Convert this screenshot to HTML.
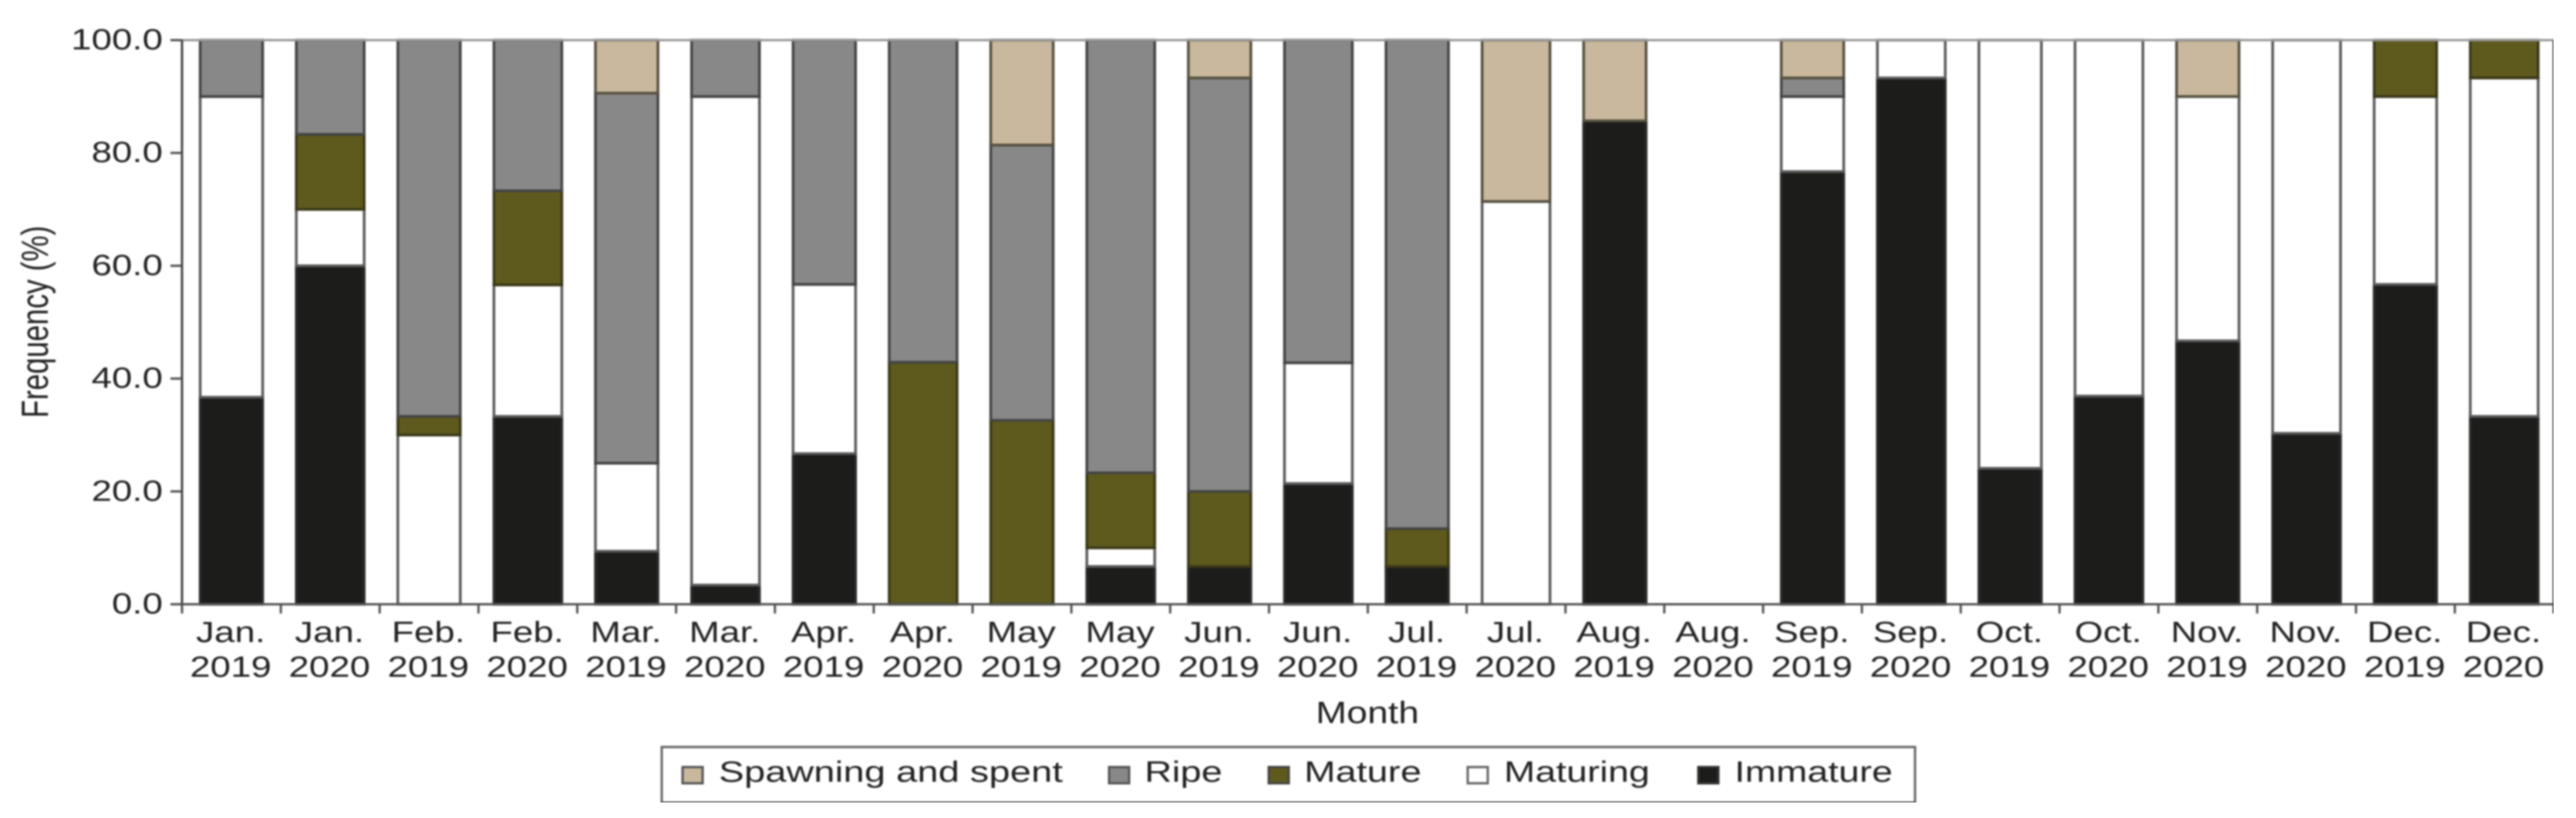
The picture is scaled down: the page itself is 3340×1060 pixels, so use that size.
<!DOCTYPE html>
<html lang="en">
<head>
<meta charset="utf-8">
<title>Monthly frequency of maturity stages</title>
<style>
  html, body { margin: 0; padding: 0; background: #fff; }
  #chart { display: block; width: 3340px; height: 1060px; background: #fff; }
  text { font-family: "Liberation Sans", Arial, sans-serif; fill: #222; font-size: 38px; }
</style>
</head>
<body>
<svg id="chart" xmlns="http://www.w3.org/2000/svg" width="3340" height="1060" viewBox="0 0 3340 1060">
  <defs>
    <filter id="soft" x="0" y="0" width="100%" height="100%" color-interpolation-filters="sRGB">
      <feGaussianBlur stdDeviation="1.1"></feGaussianBlur>
    </filter>
  </defs>
  <g id="root" filter="url(#soft)">
    <g id="bars"></g>
    <g id="axes"></g>
    <text transform="translate(62,417) scale(1.3,1) rotate(-90)" text-anchor="middle">Frequency (%)</text>
    <text x="1706" y="937" font-size="40" style="font-size:40px" textLength="134" lengthAdjust="spacingAndGlyphs">Month</text>
    <g>
      <rect x="858" y="968" width="1625" height="72" fill="#fff" stroke="#666" stroke-width="3"></rect>
      <rect x="885" y="994" width="26" height="21" fill="#c9b89d" stroke="#555" stroke-width="3"></rect>
      <text x="932" y="1013" textLength="446" lengthAdjust="spacingAndGlyphs">Spawning and spent</text>
      <rect x="1438" y="994" width="26" height="21" fill="#888888" stroke="#555" stroke-width="3"></rect>
      <text x="1484" y="1013" textLength="101" lengthAdjust="spacingAndGlyphs">Ripe</text>
      <rect x="1645" y="994" width="26" height="21" fill="#5e5a1e" stroke="#444" stroke-width="3"></rect>
      <text x="1691" y="1013" textLength="152" lengthAdjust="spacingAndGlyphs">Mature</text>
      <rect x="1903" y="994" width="26" height="21" fill="#fff" stroke="#666" stroke-width="3"></rect>
      <text x="1950" y="1013" textLength="189" lengthAdjust="spacingAndGlyphs">Maturing</text>
      <rect x="2202" y="994" width="26" height="21" fill="#1c1c1a" stroke="#333" stroke-width="3"></rect>
      <text x="2249" y="1013" textLength="205" lengthAdjust="spacingAndGlyphs">Immature</text>
    </g>
  </g>
</svg>
<script>
var months = ["Jan.","Jan.","Feb.","Feb.","Mar.","Mar.","Apr.","Apr.","May","May","Jun.","Jun.","Jul.","Jul.","Aug.","Aug.","Sep.","Sep.","Oct.","Oct.","Nov.","Nov.","Dec.","Dec."];
var years = ["2019","2020","2019","2020","2019","2020","2019","2020","2019","2020","2019","2020","2019","2020","2019","2020","2019","2020","2019","2020","2019","2020","2019","2020"];
var yTickValues = [0, 20, 40, 60, 80, 100];
var yTickLabels = ["0.0", "20.0", "40.0", "60.0", "80.0", "100.0"];

var immature = [36.7,60,0,33.3,9.4,3.4,26.7,0,0,6.7,6.7,21.4,6.7,0,85.7,0,76.7,93.3,24.1,36.9,46.7,30.3,56.7,33.3];
var maturing = [53.3,10,30,23.3,15.6,86.6,30,0,0,3.3,0,21.4,0,71.4,0,100,13.3,6.7,75.9,63.1,43.3,69.7,33.3,60];
var mature = [0,13.3,3.3,16.7,0,0,0,42.9,32.6,13.3,13.3,0,6.7,0,0,0,0,0,0,0,0,0,10,6.7];
var ripe = [10,16.7,66.7,26.7,65.6,10,43.3,57.1,48.8,76.7,73.3,57.2,86.6,0,0,0,3.3,0,0,0,0,0,0,0];
var spawning = [0,0,0,0,9.4,0,0,0,18.6,0,6.7,0,0,28.6,14.3,0,6.7,0,0,0,10,0,0,0];

var NS = "http://www.w3.org/2000/svg";
var plotLeft = 236, plotRight = 3311, plotTop = 52, plotBottom = 783;
var step = (plotRight - plotLeft) / months.length;

function yScale(v) { return plotBottom - (v / 100) * (plotBottom - plotTop); }
function xCenter(i) { return plotLeft + step * (i + 0.5); }
function barWidth(i) { return years[i] === "2020" ? 88 : 81; }

function make(tag, attrs, parent) {
  var el = document.createElementNS(NS, tag);
  for (var k in attrs) { el.setAttribute(k, attrs[k]); }
  parent.appendChild(el);
  return el;
}

var barsGroup = document.getElementById("bars");
var axesGroup = document.getElementById("axes");

var stack = [
  { key: "immature", values: immature, fill: "#1c1c1a", stroke: "#2a2a2a" },
  { key: "maturing", values: maturing, fill: "#ffffff", stroke: "#5a5a5a" },
  { key: "mature", values: mature, fill: "#5e5a1e", stroke: "#3a3818" },
  { key: "ripe", values: ripe, fill: "#888888", stroke: "#444444" },
  { key: "spawning", values: spawning, fill: "#c9b89d", stroke: "#55503f" }
];

months.forEach(function (m, i) {
  var cumulative = 0;
  stack.forEach(function (s) {
    var v = s.values[i];
    if (v <= 0) { return; }
    var y1 = yScale(cumulative + v);
    var y0 = yScale(cumulative);
    var w = barWidth(i);
    // A fully white bar shows no outline in the reference (Aug. 2020).
    var outline = (s.key === "maturing" && v >= 100) ? "none" : s.stroke;
    var seg = make("rect", {
      x: xCenter(i) - w / 2, y: y1, width: w, height: y0 - y1,
      fill: s.fill, stroke: outline, "stroke-width": 3.5
    }, barsGroup);
    
    
    cumulative += v;
  });
});

yTickValues.forEach(function (v, i) {
  var y = yScale(v);
  var tick = make("line", { x1: plotLeft - 15, x2: plotLeft, y1: y, y2: y, stroke: "#555", "stroke-width": 3 }, axesGroup);
  
  
  var label = make("text", { transform: "translate(211," + (y + 12) + ") scale(1.25,1)", "text-anchor": "end" }, axesGroup);
  label.textContent = yTickLabels[i];
  
  
});

for (var k = 0; k <= months.length; k++) {
  var tx = plotLeft + step * k;
  var xt = make("line", { x1: tx, x2: tx, y1: plotBottom, y2: plotBottom + 12, stroke: "#555", "stroke-width": 3 }, axesGroup);
  
  
}

months.forEach(function (m, i) {
  var c = xCenter(i) - 1;
  var t1 = make("text", { transform: "translate(" + c + ",832) scale(1.25,1)", "text-anchor": "middle" }, axesGroup);
  t1.textContent = m;
  
  
  var t2 = make("text", { transform: "translate(" + c + ",877) scale(1.25,1)", "text-anchor": "middle" }, axesGroup);
  t2.textContent = years[i];
  
  
});

var topLine = make("line", { x1: plotLeft, x2: plotRight, y1: plotTop, y2: plotTop, stroke: "#999", "stroke-width": 3 }, axesGroup);



var rightLine = make("line", { x1: plotRight, x2: plotRight, y1: plotTop, y2: plotBottom, stroke: "#666", "stroke-width": 3 }, axesGroup);



var leftLine = make("line", { x1: plotLeft, x2: plotLeft, y1: plotTop, y2: plotBottom, stroke: "#444", "stroke-width": 3 }, axesGroup);



var bottomLine = make("line", { x1: plotLeft, x2: plotRight, y1: plotBottom, y2: plotBottom, stroke: "#555", "stroke-width": 3 }, axesGroup);


</script>
</body>
</html>
